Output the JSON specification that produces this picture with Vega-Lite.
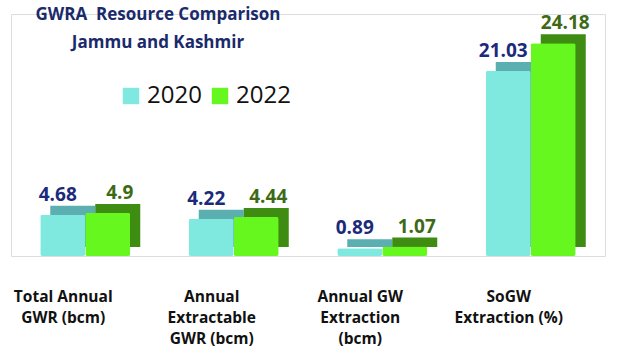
{
  "$schema": "https://vega.github.io/schema/vega-lite/v6.json",
  "autosize": "none",
  "width": 594,
  "height": 242,
  "padding": {"left": 11, "top": 14, "right": 25, "bottom": 98},
  "background": "white",
  "title": {
    "text": ["GWRA\u00a0\u00a0Resource Comparison", "Jammu and Kashmir"],
    "anchor": "start",
    "frame": "group",
    "align": "center",
    "dx": 147,
    "dy": -6,
    "offset": -44,
    "font": "Open Sans",
    "fontSize": 17,
    "fontWeight": "bold",
    "color": "#1B2A6B",
    "lineHeight": 28
  },
  "data": {
    "values": [
      {"cat": "Total Annual|GWR (bcm)", "year": "2020", "value": 4.68},
      {"cat": "Total Annual|GWR (bcm)", "year": "2022", "value": 4.9},
      {"cat": "Annual|Extractable|GWR (bcm)", "year": "2020", "value": 4.22},
      {"cat": "Annual|Extractable|GWR (bcm)", "year": "2022", "value": 4.44},
      {"cat": "Annual GW|Extraction|(bcm)", "year": "2020", "value": 0.89},
      {"cat": "Annual GW|Extraction|(bcm)", "year": "2022", "value": 1.07},
      {"cat": "SoGW|Extraction (%)", "year": "2020", "value": 21.03},
      {"cat": "SoGW|Extraction (%)", "year": "2022", "value": 24.18}
    ]
  },
  "encoding": {
    "x": {
      "field": "cat",
      "type": "nominal",
      "sort": null,
      "scale": {"paddingInner": 0.394, "paddingOuter": 0.197},
      "axis": {
        "title": null,
        "labelAngle": 0,
        "labelExpr": "split(datum.label, '|')",
        "labelFont": "Open Sans",
        "labelFontSize": 15.5,
        "labelFontWeight": "bold",
        "labelColor": "#111111",
        "labelLineHeight": 21,
        "labelPadding": 33,
        "labelOffset": -22,
        "labelBaseline": "top",
        "ticks": false,
        "domain": false,
        "grid": false
      }
    },
    "y": {
      "field": "value",
      "type": "quantitative",
      "scale": {"domain": [0, 27.5], "nice": false},
      "axis": null
    }
  },
  "layer": [
    {
      "mark": {"type": "bar", "yOffset": -9, "y2Offset": -9},
      "encoding": {
        "xOffset": {"field": "year", "type": "nominal", "scale": {"range": [10, 100], "paddingInner": 0, "paddingOuter": 0}},
        "color": {
          "field": "year",
          "type": "nominal",
          "scale": {"domain": ["2020", "2022"], "range": ["#5BAFB0", "#3E8C12"]},
          "legend": null
        }
      }
    },
    {
      "layer": [
        {
          "mark": {"type": "bar", "cornerRadius": 2},
          "encoding": {
            "color": {
              "field": "year",
              "type": "nominal",
              "scale": {"domain": ["2020", "2022"], "range": ["#80E9DF", "#66F71E"]},
              "legend": {
                "title": null,
                "orient": "none",
                "legendX": 108,
                "legendY": 70,
                "direction": "horizontal",
                "symbolType": "square",
                "symbolSize": 270,
                "symbolStrokeWidth": 0,
                "labelFont": "Open Sans",
                "labelFontSize": 24,
                "labelColor": "#111111",
                "columnPadding": 6,
                "labelOffset": 4
              }
            }
          }
        },
        {
          "transform": [{"filter": "datum.year == '2020'"}],
          "mark": {"type": "text", "baseline": "bottom", "dy": -10, "dx": -5, "font": "Open Sans", "fontSize": 19, "fontWeight": "bold", "color": "#1B2A7A"},
          "encoding": {"text": {"field": "value", "type": "quantitative"}}
        },
        {
          "transform": [{"filter": "datum.year == '2022'"}],
          "mark": {"type": "text", "baseline": "bottom", "dy": -10, "dx": 12, "font": "Open Sans", "fontSize": 19, "fontWeight": "bold", "color": "#3D6A14"},
          "encoding": {"text": {"field": "value", "type": "quantitative"}}
        }
      ],
      "encoding": {
        "xOffset": {"field": "year", "type": "nominal", "scale": {"range": [0, 90], "paddingInner": 0, "paddingOuter": 0}}
      }
    }
  ],
  "resolve": {"scale": {"color": "independent", "xOffset": "independent"}}
}
